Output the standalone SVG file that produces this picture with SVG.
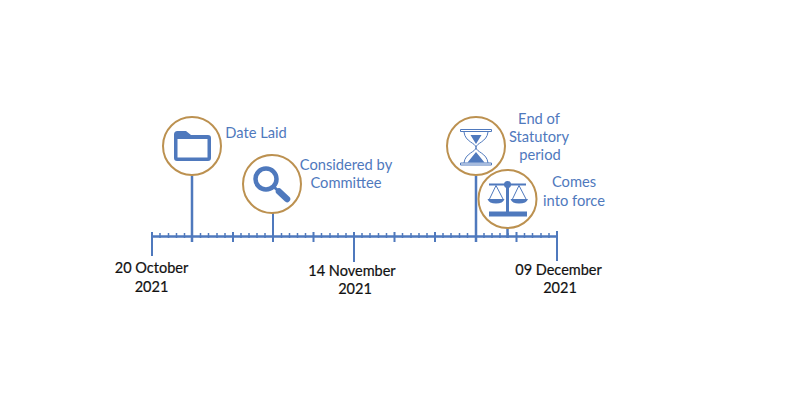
<svg xmlns="http://www.w3.org/2000/svg" width="790" height="400" viewBox="0 0 790 400">
<style>
.ax{stroke:#4f79bd;fill:none}
.a{stroke-width:2.5}
.maj{stroke-width:2}
.stem{stroke-width:2.500}
.min{stroke-width:1.5}
.ring{fill:#fff;stroke:#bc9150;stroke-width:2}
.ic{fill:#4f79bd}
.lbl{font:14.700px Lato,"Liberation Sans",sans-serif;fill:#4f79bd;text-anchor:middle}
.dt{font:14.500px Lato,"Liberation Sans",sans-serif;fill:#111;text-anchor:middle;stroke:#111;stroke-width:.2}
</style>
<rect width="790" height="400" fill="#fff"/>
<g id="connectors" class="ax">
<path class="a" d="M152 236.500H557"/>
<path class="min" d="M160 233V238M168.500 233V238M176.500 233V238M184.500 233V238M200.500 233V238M208.500 233V238M217 233V238M225 233V238M241 233V238M249 233V238M257 233V238M265 233V238M281.500 233V238M289.500 233V238M297.500 233V238M305.500 233V238M321.500 233V238M330 233V238M338 233V238M346 233V238M362 233V238M370 233V238M378.500 233V238M386.500 233V238M402.500 233V238M411 233V238M419 233V238M427 233V238M443 233V238M451 233V238M459.500 233V238M467.500 233V238M484 233V238M492 233V238M500 233V238M508 233V238M524.500 233V238M532.500 233V238M541 233V238M549 233V238"/>
<path class="maj" d="M152 232V256M233 232V242M313.500 232V242M354 232V262M394.500 232V242M435 232V242M516.500 232V242M557 231V261M273 213V242"/>
<path class="stem" d="M192 176V242M476 176V242M507.500 228V238"/>
</g>
<g id="node-date-laid">
<circle class="ring" cx="192" cy="146" r="29"/>
<path class="ic" d="M174 134.500Q174 131 177.500 131H186L191 135H208Q211 135 211 138V158Q211 161 208 161H177Q174 161 174 158ZM177.500 139V157.500H207.500V139Z"/>
<text class="lbl" x="256" y="138">Date Laid</text>
</g>
<g id="node-considered">
<circle class="ring" cx="272" cy="184" r="29"/>
<circle cx="266" cy="179" r="10.500" fill="none" stroke="#4f79bd" stroke-width="4.500"/>
<path d="M274 187L287 199" stroke="#4f79bd" stroke-width="3" stroke-linecap="round"/>
<path d="M279 191.500L287 199" stroke="#4f79bd" stroke-width="6.500" stroke-linecap="round"/>
<text class="lbl" x="346" y="170">Considered by</text>
<text class="lbl" x="346" y="188">Committee</text>
</g>
<g id="node-statutory">
<circle class="ring" cx="476" cy="146" r="29"/>
<path d="M460.500 129.500H491.500V131.500H460.500ZM460.500 163H491.500V165H460.500Z" fill="#fff" stroke="#4f79bd" stroke-width="1"/>
<path d="M464 132C465 142 476 143 476 147.500C476 152 465 153 464 163M488 132C487 142 476 143 476 147.500C476 152 487 153 488 163" fill="none" stroke="#4f79bd" stroke-width="1"/>
<path class="ic" d="M470.500 135H481.500L476 144ZM476 152L484.500 162.500H467.500Z"/>
<text class="lbl" x="539" y="124">End of</text>
<text class="lbl" x="539" y="142">Statutory</text>
<text class="lbl" x="540" y="160">period</text>
</g>
<g id="node-force">
<circle class="ring" cx="507.500" cy="199" r="29"/>
<path class="ic" d="M489 183.500H526V185.500H489ZM506 185H509V212H506ZM489 211.500H527V216.500H489Z"/>
<circle class="ic" cx="507.500" cy="184.500" r="3.500"/>
<path d="M496 185.500L489.500 199M496 185.500L503 199M519 185.500L512.500 199M519 185.500L526 199" stroke="#4f79bd" stroke-width="1" fill="none"/>
<path class="ic" d="M487.500 199H504.500Q503 203.500 496 203.500Q489 203.500 487.500 199ZM510.500 199H528Q526.500 203.500 519 203.500Q512 203.500 510.500 199Z"/>
<text class="lbl" x="574" y="187">Comes</text>
<text class="lbl" x="574" y="206">into force</text>
</g>
<g id="date-start">
<text class="dt" x="151.500" y="273">20 October</text>
<text class="dt" x="151.500" y="292">2021</text>
</g>
<g id="date-middle">
<text class="dt" x="352" y="276">14 November</text>
<text class="dt" x="355" y="294">2021</text>
</g>
<g id="date-end">
<text class="dt" x="558.500" y="275">09 December</text>
<text class="dt" x="560" y="293">2021</text>
</g>
</svg>
